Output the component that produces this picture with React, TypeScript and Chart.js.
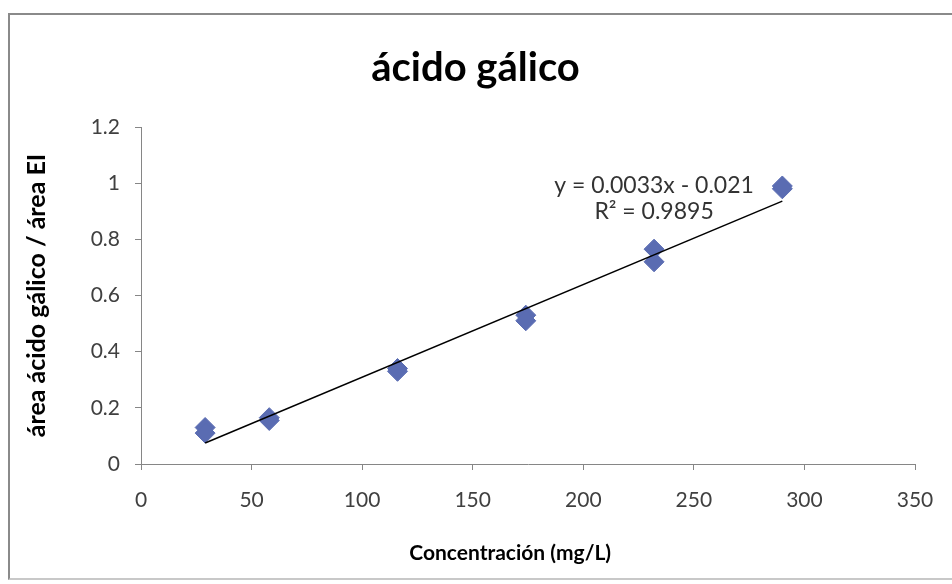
import React, { useEffect, useRef } from "react";
import { Chart, registerables } from "chart.js";

Chart.register(...registerables);

const concentrations = [29, 29, 58, 58, 116, 116, 174, 174, 232, 232, 290, 290];
const areaRatios = [0.13, 0.11, 0.165, 0.155, 0.34, 0.33, 0.53, 0.51, 0.765, 0.72, 0.99, 0.98];
const trendSlope = 0.0033;
const trendIntercept = -0.021;
const trendXRange = [29, 290];
const equationLines = ["y = 0.0033x - 0.021", "R² = 0.9895"];
const chartTitle = "ácido gálico";
const xAxisTitle = "Concentración (mg/L)";
const yAxisTitle = "área ácido gálico / área EI";

const FONT = "Lato, 'Open Sans', sans-serif";

const annotationPlugin = {
  id: "annotationText",
  afterDatasetsDraw(chart: any) {
    const { ctx, scales, chartArea } = chart;
    const x = scales.x.getPixelForValue(232);
    const y1 = scales.y.getPixelForValue(0.99);
    const y2 = scales.y.getPixelForValue(0.9);
    ctx.save();
    ctx.font = `23px ${FONT}`;
    ctx.fillStyle = "#333333";
    ctx.textAlign = "center";
    ctx.textBaseline = "middle";
    ctx.fillText(equationLines[0], x, y1);
    ctx.fillText(equationLines[1], x, y2);
    // x axis title
    ctx.font = `bold 21px ${FONT}`;
    ctx.fillStyle = "#000000";
    const tx = chartArea.left + (chartArea.right - chartArea.left) * 0.477;
    ctx.fillText(xAxisTitle, tx, chartArea.bottom + 89);
    ctx.restore();
  },
};

export default function App() {
  const canvasRef = useRef<HTMLCanvasElement>(null);

  useEffect(() => {
    const canvas = canvasRef.current;
    if (!canvas) return;
    const points = concentrations.map((x, i) => ({ x, y: areaRatios[i] }));
    const trend = trendXRange.map((x) => ({ x, y: trendSlope * x + trendIntercept }));

    const chart = new Chart(canvas, {
      type: "scatter",
      data: {
        datasets: [
          {
            type: "line",
            data: trend,
            borderColor: "#000000",
            borderWidth: 1.5,
            pointRadius: 0,
            fill: false,
            order: 1,
          } as any,
          {
            data: points,
            pointStyle: "rectRot",
            pointRadius: 10,
            backgroundColor: "#5A6CB2",
            borderColor: "#5A6CB2",
            borderWidth: 1,
            order: 2,
          },
        ],
      },
      options: {
        responsive: false,
        animation: false,
        layout: { padding: { left: 0, right: 11, top: 0, bottom: 10 } },
        plugins: {
          legend: { display: false },
          tooltip: { enabled: false },
          title: {
            display: true,
            text: chartTitle,
            color: "#000000",
            font: { family: FONT, size: 40, weight: "bold" },
            padding: { top: 29, bottom: 35 },
          },
        },
        scales: {
          x: {
            type: "linear",
            min: 0,
            max: 350,
            ticks: {
              stepSize: 50,
              color: "#404040",
              font: { family: FONT, size: 21 },
              padding: 18,
            },
            grid: {
              drawOnChartArea: false,
              drawTicks: true,
              tickLength: 6,
              color: "#868686",
            },
            border: { color: "#868686", width: 1 },
            afterFit(scale: any) {
              scale.height = 104;
            },
          },
          y: {
            type: "linear",
            min: 0,
            max: 1.2,
            ticks: {
              stepSize: 0.2,
              color: "#404040",
              font: { family: FONT, size: 21 },
              padding: 15,
              callback: (v: any) => String(Math.round(Number(v) * 10) / 10),
            },
            grid: {
              drawOnChartArea: false,
              drawTicks: true,
              tickLength: 6,
              color: "#868686",
            },
            border: { color: "#868686", width: 1 },
            title: {
              display: true,
              text: yAxisTitle,
              color: "#000000",
              font: { family: FONT, size: 25, weight: "bold" },
              padding: { top: 12, bottom: 0 },
            },
            afterFit(scale: any) {
              scale.width = 131;
            },
          },
          yRight: {
            type: "linear",
            position: "right",
            display: true,
            min: 0,
            max: 1,
            ticks: { display: false },
            grid: { display: false },
            border: { display: false },
            afterFit(scale: any) {
              scale.width = 26;
            },
          },
        },
      },
      plugins: [annotationPlugin],
    });
    return () => chart.destroy();
  }, []);

  return (
    <div
      style={{
        position: "absolute",
        left: 8,
        top: 13,
        width: 944,
        height: 567,
        boxSizing: "border-box",
        borderLeft: "2px solid #8a8a8a",
        borderTop: "2px solid #8a8a8a",
        borderBottom: "2px solid #c8c8c8",
        background: "#ffffff",
      }}
    >
      <canvas ref={canvasRef} width={942} height={563} style={{ display: "block" }} />
    </div>
  );
}
